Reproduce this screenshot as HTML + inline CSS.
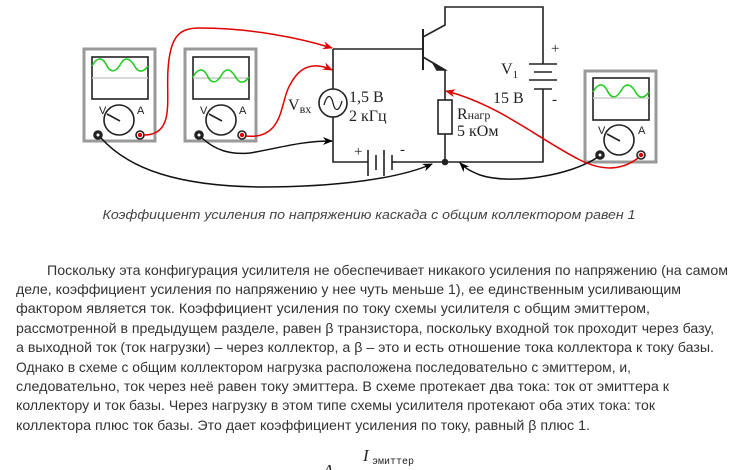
<!DOCTYPE html>
<html><head><meta charset="utf-8"><style>
body{margin:0;background:#fff;width:738px;height:470px;overflow:hidden}
svg{display:block}
</style></head><body>
<svg width="738" height="470" viewBox="0 0 738 470" xmlns="http://www.w3.org/2000/svg">
<defs>
<marker id="ar" markerWidth="10" markerHeight="8" refX="9" refY="4" orient="auto" markerUnits="userSpaceOnUse"><path d="M0,0 L10,4 L0,8 L3,4z" fill="#e00000"/></marker>
<marker id="ab" markerWidth="10" markerHeight="8" refX="9" refY="4" orient="auto" markerUnits="userSpaceOnUse"><path d="M0,0 L10,4 L0,8 L3,4z" fill="#000"/></marker>
</defs>
<g font-family="Liberation Serif, serif" fill="none" stroke="#222" stroke-width="1.6">
<path d="M333,49 H423 M333,49 V89 M333,117 V162 H368 M396,162 H543 V89 M543,64 V7 H445 V25 L423,37"/>
<path d="M423,29 V70" stroke-width="2"/>
<path d="M423,57 L445,70 V100 M445,134 V162"/>
<path d="M433,63 L445,70 L437,70z" fill="#222"/>
<rect x="438" y="100" width="14" height="34"/>
<circle cx="445" cy="162" r="2.5" fill="#222"/>
<circle cx="333" cy="103" r="14"/>
<path d="M324,105 C327,94 331,94 333,103 C335,112 339,112 342,101" stroke-width="1.3"/>
<path d="M529,64 H557 M534,72 H552 M529,80 H557 M534,89 H552"/>
<path d="M368,150 V176 M376,155 V170 M384,150 V176 M392,155 V170" />
<path d="M392,162 H396"/>
</g>
<g font-family="Liberation Serif, serif" font-size="16" fill="#222">
<text x="288" y="110">V<tspan font-size="12" dy="3">вх</tspan></text>
<text x="349" y="102">1,5 В</text>
<text x="349" y="121">2 кГц</text>
<text x="501" y="74">V<tspan font-size="11" dy="4">1</tspan></text>
<text x="493" y="103">15 В</text>
<text x="457" y="119">R<tspan font-size="12">нагр</tspan></text>
<text x="457" y="136">5 кОм</text>
<text x="551" y="53" font-size="15">+</text>
<text x="552" y="104" font-size="15">-</text>
<text x="354" y="156" font-size="15">+</text>
<text x="400" y="154" font-size="15">-</text>
</g>
<g stroke-width="1.6" fill="none">
<rect x="84" y="49" width="71" height="92" stroke="#999" stroke-width="3" fill="#fff"/>
<rect x="92" y="57" width="56" height="42" stroke="#222"/>
<line x1="92" y1="78" x2="148" y2="78" stroke="#ccc"/>
<path d="M92,66 C97,57 102,57 106,64 C110,73 115,73 120,65 C124,57 129,57 134,65 C138,73 143,73 148,66" stroke="#22cc22"/>
<circle cx="119" cy="120" r="15" stroke="#222"/>
<line x1="107" y1="114" x2="120" y2="121" stroke="#222"/>
<circle cx="98" cy="135" r="4" fill="#222" stroke="#222"/><circle cx="98" cy="135" r="1.5" fill="#fff" stroke="none"/>
<circle cx="140" cy="135" r="4" fill="#fff" stroke="#222"/><circle cx="140" cy="135" r="2.2" fill="#e00000" stroke="none"/>
<rect x="185" y="49" width="71" height="92" stroke="#999" stroke-width="3" fill="#fff"/>
<rect x="193" y="57" width="56" height="42" stroke="#222"/>
<line x1="193" y1="78" x2="249" y2="78" stroke="#ccc"/>
<path d="M193,77 C198,68 203,68 207,75 C211,84 216,84 221,76 C225,68 230,68 235,76 C239,84 244,84 249,77" stroke="#22cc22"/>
<circle cx="221" cy="120" r="15" stroke="#222"/>
<line x1="209" y1="114" x2="222" y2="121" stroke="#222"/>
<circle cx="199" cy="135" r="4" fill="#222" stroke="#222"/><circle cx="199" cy="135" r="1.5" fill="#fff" stroke="none"/>
<circle cx="242" cy="135" r="4" fill="#fff" stroke="#222"/><circle cx="242" cy="135" r="2.2" fill="#e00000" stroke="none"/>
<rect x="585" y="71" width="71" height="91" stroke="#999" stroke-width="3" fill="#fff"/>
<rect x="593" y="78" width="56" height="42" stroke="#222"/>
<line x1="593" y1="98" x2="649" y2="98" stroke="#ccc"/>
<path d="M593,92 C598,83 603,83 607,90 C611,99 616,99 621,91 C625,83 630,83 635,91 C639,99 644,99 649,92" stroke="#22cc22"/>
<circle cx="619" cy="140" r="15" stroke="#222"/>
<line x1="607" y1="134" x2="620" y2="141" stroke="#222"/>
<circle cx="600" cy="155" r="4" fill="#222" stroke="#222"/><circle cx="600" cy="155" r="1.5" fill="#fff" stroke="none"/>
<circle cx="641" cy="155" r="4" fill="#fff" stroke="#222"/><circle cx="641" cy="155" r="2.2" fill="#e00000" stroke="none"/>
</g>
<g font-family="Liberation Sans, sans-serif" font-size="11" fill="#222">
<text x="99" y="114">V</text><text x="137" y="114">A</text>
<text x="200" y="114">V</text><text x="239" y="114">A</text>
<text x="598" y="134">V</text><text x="638" y="134">A</text>
</g>
<g fill="none" stroke-width="1.5">
<path d="M144,135 C175,135 166,100 168,70 C170,35 180,28 200,28 C250,28 300,38 332,48" stroke="#e00000" marker-end="url(#ar)"/>
<path d="M246,136 C285,140 280,100 290,85 C300,65 315,62 332,70" stroke="#e00000" marker-end="url(#ar)"/>
<path d="M202,138 C215,150 230,155 250,153 C280,148 300,141 332,141" stroke="#111" marker-end="url(#ab)"/>
<path d="M101,138 C130,170 180,186 260,187 C340,187 400,178 432,164" stroke="#111" marker-end="url(#ab)"/>
<path d="M598,157 C570,176 510,185 480,175 C470,171 465,168 460,163" stroke="#111" marker-end="url(#ab)"/>
<path d="M638,158 C620,172 600,170 580,160 C540,140 500,105 446,91" stroke="#e00000" marker-end="url(#ar)"/>
</g>
<text x="369" y="219" text-anchor="middle" font-family="Liberation Sans, sans-serif" font-style="italic" font-size="13" fill="#444" textLength="533" lengthAdjust="spacingAndGlyphs">Коэффициент усиления по напряжению каскада с общим коллектором равен 1</text>
<g font-family="Liberation Sans, sans-serif" font-size="14" fill="#333">
<text x="47" y="275" textLength="681" lengthAdjust="spacingAndGlyphs">Поскольку эта конфигурация усилителя не обеспечивает никакого усиления по напряжению (на самом</text>
<text x="16" y="294" textLength="665" lengthAdjust="spacingAndGlyphs">деле, коэффициент усиления по напряжению у нее чуть меньше 1), ее единственным усиливающим</text>
<text x="16" y="313" textLength="634" lengthAdjust="spacingAndGlyphs">фактором является ток. Коэффициент усиления по току схемы усилителя с общим эмиттером,</text>
<text x="16" y="333" textLength="698" lengthAdjust="spacingAndGlyphs">рассмотренной в предыдущем разделе, равен β транзистора, поскольку входной ток проходит через базу,</text>
<text x="16" y="352" textLength="698" lengthAdjust="spacingAndGlyphs">а выходной ток (ток нагрузки) – через коллектор, а β – это и есть отношение тока коллектора к току базы.</text>
<text x="16" y="372" textLength="615" lengthAdjust="spacingAndGlyphs">Однако в схеме с общим коллектором нагрузка расположена последовательно с эмиттером, и,</text>
<text x="16" y="391" textLength="653" lengthAdjust="spacingAndGlyphs">следовательно, ток через неё равен току эмиттера. В схеме протекает два тока: ток от эмиттера к</text>
<text x="16" y="410" textLength="639" lengthAdjust="spacingAndGlyphs">коллектору и ток базы. Через нагрузку в этом типе схемы усилителя протекают оба этих тока: ток</text>
<text x="16" y="430" textLength="574" lengthAdjust="spacingAndGlyphs">коллектора плюс ток базы. Это дает коэффициент усиления по току, равный β плюс 1.</text>
</g>
<text x="363" y="461" font-family="Liberation Serif, serif" font-style="italic" font-size="17" fill="#222">I</text>
<text x="372" y="464" font-family="Liberation Mono, monospace" font-size="10" fill="#222">эмиттер</text>
<text x="323" y="476" font-family="Liberation Serif, serif" font-style="italic" font-size="17" fill="#222">A</text>
</svg>
</body></html>
